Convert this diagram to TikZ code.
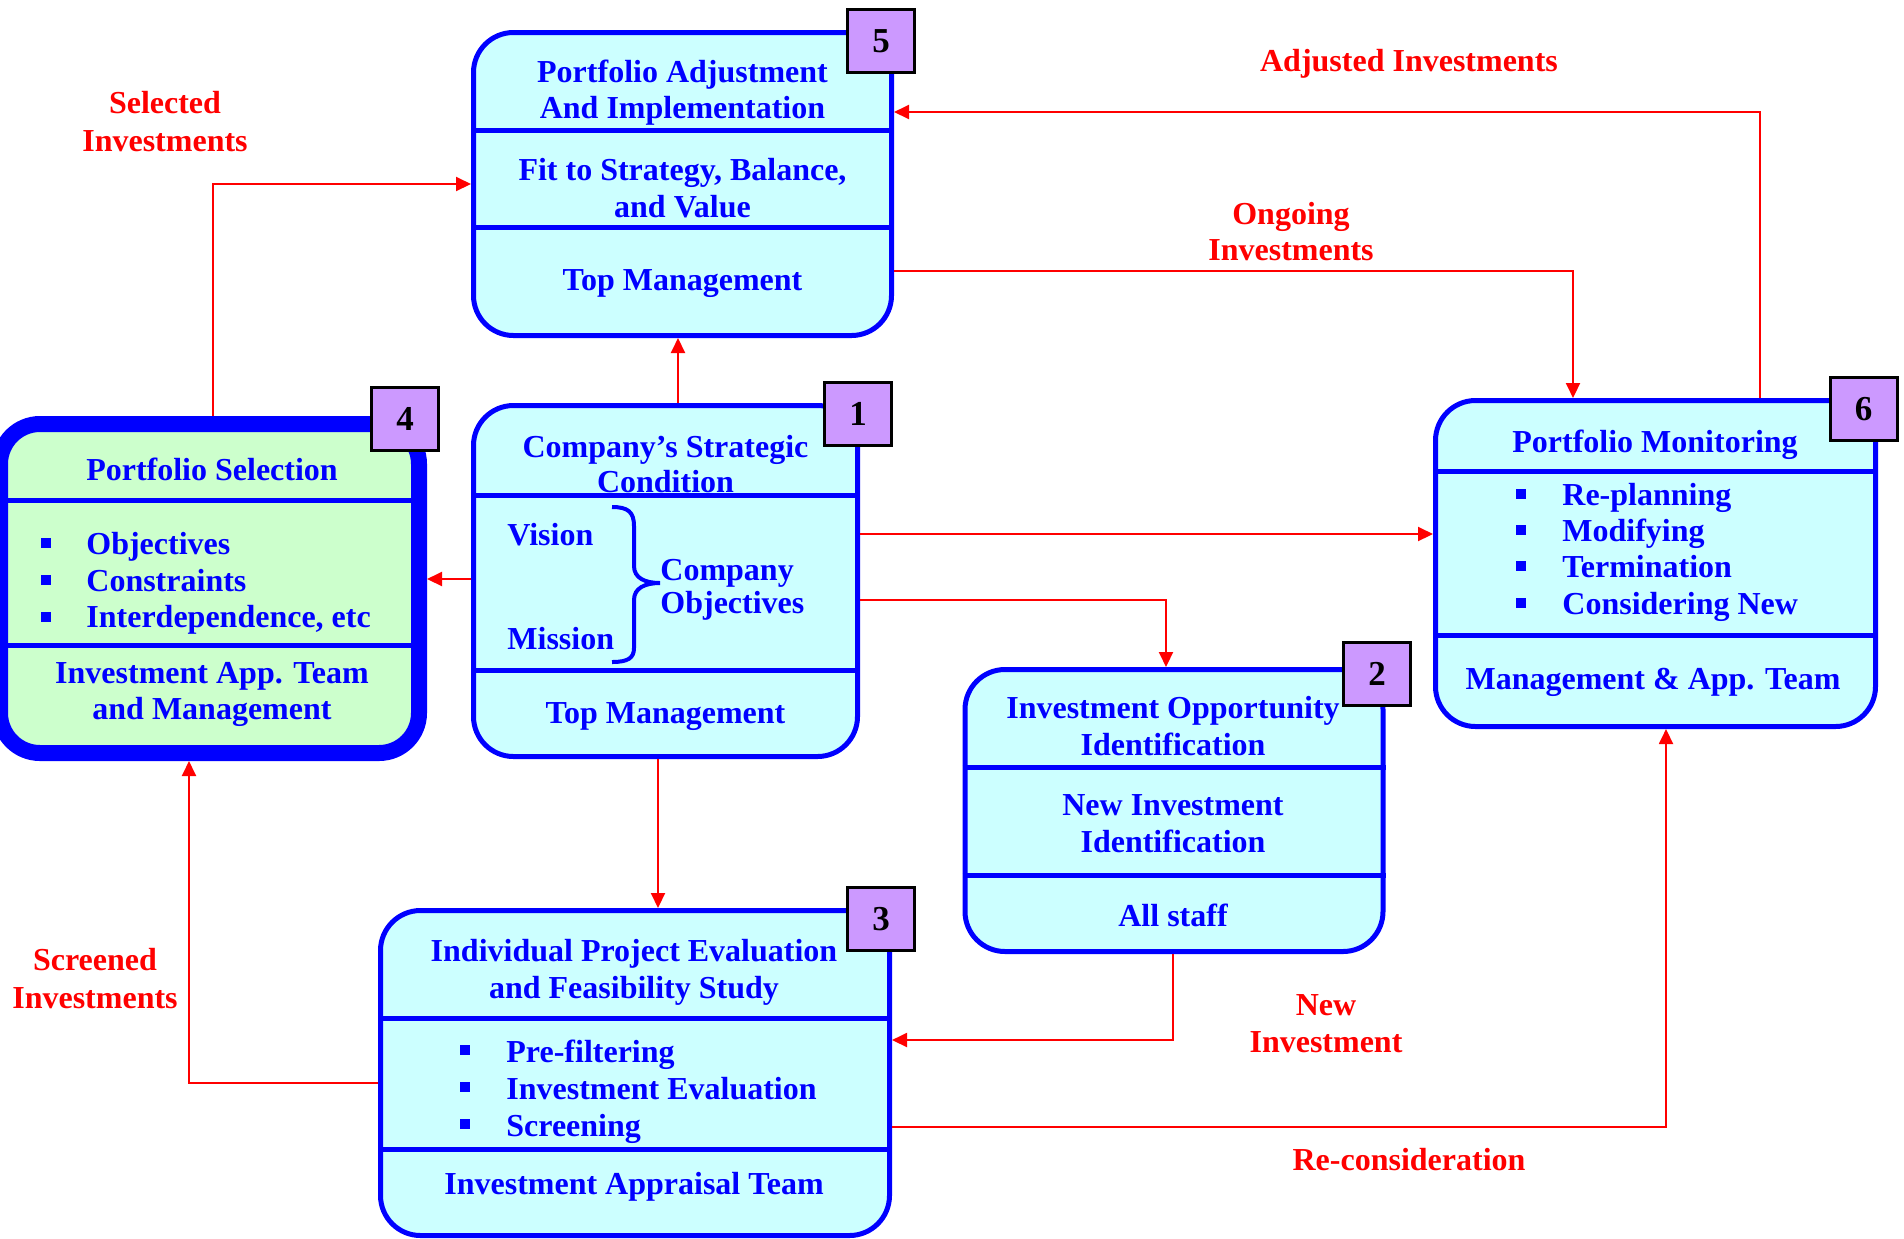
\documentclass[tikz,border=0pt]{standalone}
\usepackage{fontspec}
\setmainfont{Liberation Serif}
\usetikzlibrary{arrows.meta}
\definecolor{tblue}{RGB}{0,0,255}
\definecolor{cyanbg}{RGB}{204,255,255}
\definecolor{greenbg}{RGB}{204,255,204}
\definecolor{badgebg}{RGB}{204,153,255}
\definecolor{redc}{RGB}{255,0,0}
\newcommand{\bfnt}{\fontsize{16}{18}\selectfont\bfseries}
\newcommand{\numfnt}{\fontsize{17.5}{20}\selectfont\bfseries}
\begin{document}
\begin{tikzpicture}[x=0.5pt,y=-0.5pt,
  box/.style={draw=tblue, line width=2.5pt, rounded corners=20pt, fill=cyanbg, inner sep=0pt, outer sep=1.25pt},
  thickbox/.style={draw=tblue, line width=8pt, rounded corners=20pt, fill=greenbg, inner sep=0pt, outer sep=4pt},
  divider/.style={draw=tblue, line width=2.5pt},
  badge/.style={draw=black, line width=1.5pt, fill=badgebg, minimum width=33.5pt, minimum height=31.5pt, inner sep=0pt, font=\numfnt, text=black},
  lab/.style={text=tblue, font=\bfnt, inner sep=0pt, anchor=base},
  labl/.style={lab, anchor=base west},
  rlab/.style={lab, text=redc},
  bul/.style={fill=tblue, minimum size=5pt, inner sep=0pt},
  conn/.style={draw=redc, line width=1pt, -{Triangle[length=7.5pt,width=7pt]}},
  bracepath/.style={draw=tblue, line width=2pt}
]
\useasboundingbox (0,0) rectangle (1904,1238);

% ---------- boxes ----------
\node[box, minimum width=209pt, minimum height=151.5pt] (b5) at (682.5,184) {};
\node[box, minimum width=192pt, minimum height=175.5pt] (b1) at (665.5,581) {};
\node[thickbox, minimum width=209.5pt, minimum height=164.5pt] (b4) at (209.5,588.5) {};
\node[box, minimum width=220pt, minimum height=163pt] (b6) at (1655.5,563.5) {};
\node[box, minimum width=209pt, minimum height=141pt] (b2) at (1174,810.5) {};
\node[box, minimum width=254.5pt, minimum height=162.5pt] (b3) at (635,1073) {};

% ---------- dividers ----------
\draw[divider] (b5.west |- 0,130) -- (b5.east |- 0,130);
\draw[divider] (b5.west |- 0,227) -- (b5.east |- 0,227);
\draw[divider] (b1.west |- 0,495) -- (b1.east |- 0,495);
\draw[divider] (b1.west |- 0,670) -- (b1.east |- 0,670);
\draw[divider] (0,500) -- (419,500);
\draw[divider] (0,645) -- (419,645);
\draw[divider] (b6.west |- 0,471) -- (b6.east |- 0,471);
\draw[divider] (b6.west |- 0,635) -- (b6.east |- 0,635);
\draw[divider] (b2.west |- 0,767) -- (b2.east |- 0,767);
\draw[divider] (b2.west |- 0,875) -- (b2.east |- 0,875);
\draw[divider] (b3.west |- 0,1018) -- (b3.east |- 0,1018);
\draw[divider] (b3.west |- 0,1149) -- (b3.east |- 0,1149);

% ---------- connectors ----------
\draw[conn] (b4.north -| 213,0) |- (b5.west |- 0,184);
\draw[conn] (b6.north -| 1760,0) |- (b5.east |- 0,112);
\draw[conn] (b5.east |- 0,271) -| (b6.north -| 1573,0);
\draw[conn] (b1.north -| 678,0) -- (b5.south -| 678,0);
\draw[conn] (b1.west |- 0,579) -- (b4.east |- 0,579);
\draw[conn] (b1.east |- 0,534) -- (b6.west |- 0,534);
\draw[conn] (b1.east |- 0,600) -| (b2.north -| 1166,0);
\draw[conn] (b1.south -| 658,0) -- (b3.north -| 658,0);
\draw[conn] (b2.south -| 1173,0) |- (b3.east |- 0,1040);
\draw[conn] (b3.west |- 0,1083) -| (b4.south -| 189,0);
\draw[conn] (b3.east |- 0,1127) -| (b6.south -| 1666,0);

% ---------- box 5 texts ----------
\node[lab] (t5a) at (682.5,82) {Portfolio Adjustment};
\node[lab] (t5b) at (682.5,118) {And Implementation};
\node[lab] (t5c) at (682.5,180) {Fit to Strategy, Balance,};
\node[lab] (t5d) at (682.5,217) {and Value};
\node[lab] (t5e) at (682.5,290) {Top Management};

% ---------- box 1 texts ----------
\node[lab] (t1a) at (665.5,457) {Company’s Strategic};
\node[lab] (t1b) at (665.5,492) {Condition};
\node[labl] (t1c) at (507,545) {Vision};
\node[labl] (t1d) at (507,649) {Mission};
\node[labl] (t1e) at (660,580) {Company};
\node[labl] (t1f) at (660,613) {Objectives};
\node[lab] (t1g) at (665.5,723) {Top Management};
\draw[bracepath] (612,507) .. controls (628,507) and (634,512) .. (634,526) -- (634,566)
  .. controls (634,578) and (645,583) .. (660,583)
  .. controls (645,583) and (634,588) .. (634,600) -- (634,648)
  .. controls (634,658) and (628,662) .. (612,662);

% ---------- box 4 texts ----------
\node[lab] (t4a) at (212,480) {Portfolio Selection};
\node[bul] (u4a) at (46,543) {};
\node[bul] (u4b) at (46,580) {};
\node[bul] (u4c) at (46,617) {};
\node[labl] (t4b) at (86,554) {Objectives};
\node[labl] (t4c) at (86,591) {Constraints};
\node[labl] (t4d) at (86,627) {Interdependence, etc};
\node[lab] (t4e) at (212,683) {Investment App. Team};
\node[lab] (t4f) at (212,719) {and Management};

% ---------- box 6 texts ----------
\node[lab] (t6a) at (1655,452) {Portfolio Monitoring};
\node[bul] (u6a) at (1521,494) {};
\node[bul] (u6b) at (1521,530) {};
\node[bul] (u6c) at (1521,566) {};
\node[bul] (u6d) at (1521,603) {};
\node[labl] (t6b) at (1562,505) {Re-planning};
\node[labl] (t6c) at (1562,541) {Modifying};
\node[labl] (t6d) at (1562,577) {Termination};
\node[labl] (t6e) at (1562,614) {Considering New};
\node[lab] (t6f) at (1653,689) {Management \& App. Team};

% ---------- box 2 texts ----------
\node[lab] (t2a) at (1173,718) {Investment Opportunity};
\node[lab] (t2b) at (1173,755) {Identification};
\node[lab] (t2c) at (1173,815) {New Investment};
\node[lab] (t2d) at (1173,852) {Identification};
\node[lab] (t2e) at (1173,926) {All staff};

% ---------- box 3 texts ----------
\node[lab] (t3a) at (634,961) {Individual Project Evaluation};
\node[lab] (t3b) at (634,998) {and Feasibility Study};
\node[bul] (u3a) at (465,1050) {};
\node[bul] (u3b) at (465,1087) {};
\node[bul] (u3c) at (465,1124) {};
\node[labl] (t3c) at (506,1062) {Pre-filtering};
\node[labl] (t3d) at (506,1099) {Investment Evaluation};
\node[labl] (t3e) at (506,1136) {Screening};
\node[lab] (t3f) at (634,1194) {Investment Appraisal Team};

% ---------- badges ----------
\node[badge] (n5) at (881,41) {5};
\node[badge] (n1) at (858,414) {1};
\node[badge] (n4) at (405,419) {4};
\node[badge] (n6) at (1863.5,409) {6};
\node[badge] (n2) at (1377,674) {2};
\node[badge] (n3) at (881,919) {3};

% ---------- red labels ----------
\node[rlab] (r1a) at (165,113) {Selected};
\node[rlab] (r1b) at (165,151) {Investments};
\node[rlab] (r2) at (1409,71) {Adjusted Investments};
\node[rlab] (r3a) at (1291,224) {Ongoing};
\node[rlab] (r3b) at (1291,260) {Investments};
\node[rlab] (r4a) at (95,970) {Screened};
\node[rlab] (r4b) at (95,1008) {Investments};
\node[rlab] (r5a) at (1326,1015) {New};
\node[rlab] (r5b) at (1326,1052) {Investment};
\node[rlab] (r6) at (1409,1170) {Re-consideration};
\end{tikzpicture}
\end{document}
